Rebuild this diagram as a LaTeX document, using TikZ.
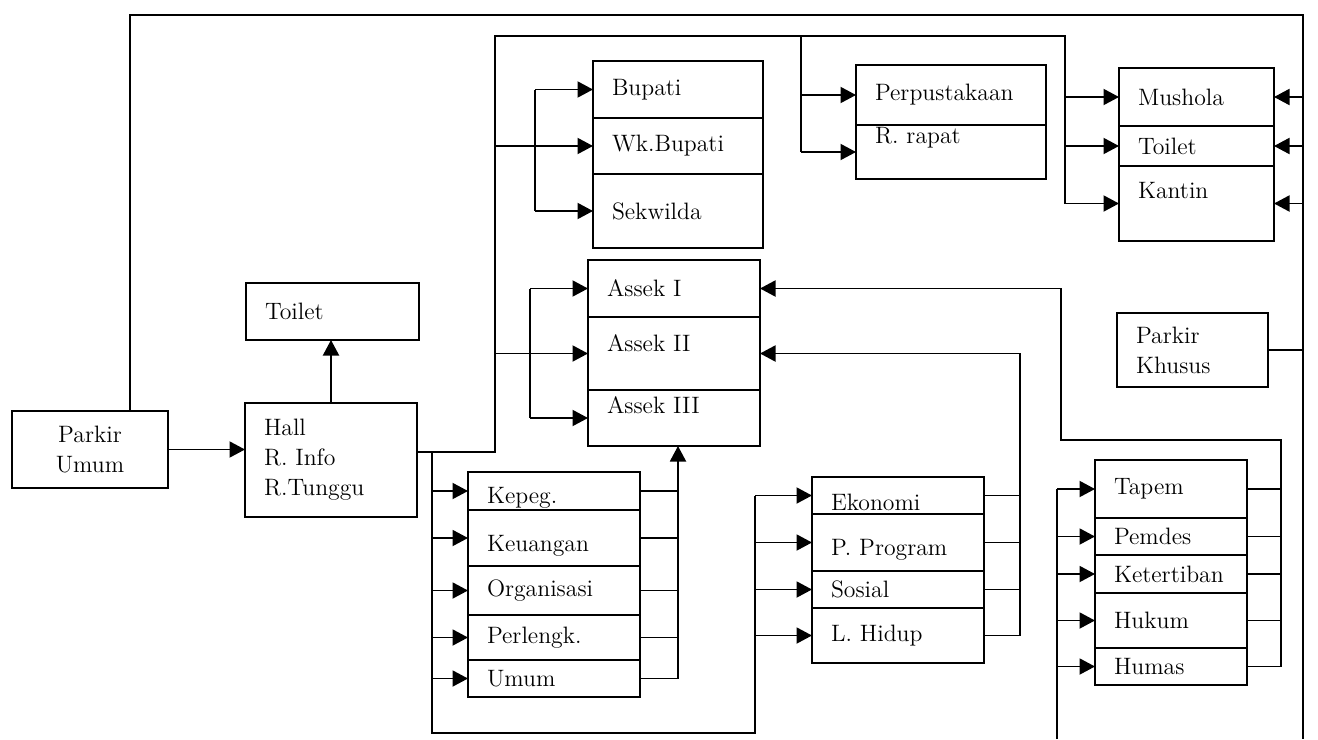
\documentclass[tikz,border=0pt]{standalone}
\usepackage{fontspec}
\usetikzlibrary{arrows.meta}

\tikzset{
  cell/.style 2 args={draw, rectangle, outer sep=0pt, inner xsep=0.38cm, inner ysep=0pt,
    anchor=north west, align=left, text width=#1, minimum height=#2,
    font=\fontsize{13.5}{17}\selectfont},
  lift/.style={text depth=#1},
  sink/.style={text height=#1},
}

\begin{document}
\begin{tikzpicture}[>={Triangle[length=3.1mm, width=3.2mm]}, line width=1.1pt]
\useasboundingbox (0,0) rectangle (26.36,-14.78);

% entrance
\node[cell={2.36cm}{1.54cm}, align=center] (pu) at (0.24,-8.22) {Parkir\\Umum};
\node[cell={2.68cm}{2.28cm}] (hall) at (4.9,-8.06) {Hall\\R. Info\\R.Tunggu};
\node[cell={2.7cm}{1.14cm}] (wc) at (4.92,-5.66) {Toilet};

% pimpinan
\node[cell={2.64cm}{1.14cm}] (bupati) at (11.86,-1.22) {Bupati};
\node[cell={2.64cm}{1.12cm}] (wkbupati) at (bupati.south west) {Wk.Bupati};
\node[cell={2.64cm}{1.48cm}] (sekwilda) at (wkbupati.south west) {Sekwilda};

\node[cell={2.68cm}{1.14cm}] (asek1) at (11.76,-5.2) {Assek I};
\node[cell={2.68cm}{1.46cm}, lift=0.4cm] (asek2) at (asek1.south west) {Assek II};
\node[cell={2.68cm}{1.12cm}, lift=0.52cm] (asek3) at (asek2.south west) {Assek III};

% penunjang
\node[cell={3.04cm}{1.2cm}] (perpus) at (17.12,-1.3) {Perpustakaan};
\node[cell={3.04cm}{1.08cm}, lift=0.65cm] (rapat) at (perpus.south west) {R. rapat};

\node[cell={2.34cm}{1.16cm}] (mushola) at (22.38,-1.36) {Mushola};
\node[cell={2.34cm}{0.8cm}] (toilet) at (mushola.south west) {Toilet};
\node[cell={2.34cm}{1.5cm}, lift=0.52cm] (kantin) at (toilet.south west) {Kantin};

\node[cell={2.26cm}{1.48cm}] (pk) at (22.34,-6.26) {Parkir\\Khusus};

% bagian
\node[cell={2.68cm}{0.76cm}, sink=0.59cm] (kepeg) at (9.36,-9.44) {Kepeg.};
\node[cell={2.68cm}{1.12cm}, sink=0.63cm] (keuangan) at (kepeg.south west) {Keuangan};
\node[cell={2.68cm}{0.98cm}] (organisasi) at (keuangan.south west) {Organisasi};
\node[cell={2.68cm}{0.9cm}] (perlengk) at (organisasi.south west) {Perlengk.};
\node[cell={2.68cm}{0.74cm}] (umum) at (perlengk.south west) {Umum};

\node[cell={2.68cm}{0.74cm}, sink=0.61cm] (ekonomi) at (16.24,-9.54) {Ekonomi};
\node[cell={2.68cm}{1.14cm}, sink=0.61cm] (program) at (ekonomi.south west) {P. Program};
\node[cell={2.68cm}{0.74cm}] (sosial) at (program.south west) {Sosial};
\node[cell={2.68cm}{1.1cm}] (lhidup) at (sosial.south west) {L. Hidup};

\node[cell={2.28cm}{1.16cm}] (tapem) at (21.9,-9.2) {Tapem};
\node[cell={2.28cm}{0.74cm}] (pemdes) at (tapem.south west) {Pemdes};
\node[cell={2.28cm}{0.76cm}] (tertib) at (pemdes.south west) {Ketertiban};
\node[cell={2.28cm}{1.1cm}] (hukum) at (tertib.south west) {Hukum};
\node[cell={2.28cm}{0.74cm}] (humas) at (hukum.south west) {Humas};

% route points
\coordinate (ring-w) at (2.6,-0.3);
\coordinate (ring-e) at (26.06,-0.3);
\coordinate (ring-s) at (26.06,-14.78);
\coordinate (hall-out) at (8.64,-9.04);
\coordinate (main-s) at (9.9,-9.04);
\coordinate (main-n) at (9.9,-0.72);
\coordinate (inner-e) at (21.3,-0.72);
\coordinate (perp-n) at (16.02,-0.72);
\coordinate (bup-v) at (10.7,0);
\coordinate (asek-v) at (10.6,0);
\coordinate (bot-w) at (8.64,-14.66);
\coordinate (bot-e) at (15.1,-14.66);
\coordinate (kep-r) at (13.56,0);
\coordinate (eko-r) at (20.4,0);
\coordinate (tap-l) at (21.14,-14.78);
\coordinate (tap-r) at (25.62,-8.8);
\coordinate (asek-r) at (21.22,-8.8);

% outer ring
\draw (pu.north -| ring-w) -- (ring-w) -- (ring-e) -- (ring-s);
\foreach \n in {mushola,toilet,kantin}
  \draw[->] (ring-e |- \n.east) -- (\n.east);
\draw (pk.east) -- (pk.east -| ring-e);

% entrance
\draw[->] (pu.east) -- (pu.east -| hall.west);
\draw[->] (hall.north) -- (hall.north |- wc.south);

% inner route
\draw (hall.east |- hall-out) -- (main-s) -- (main-n) -- (inner-e) -- (inner-e |- kantin);
\foreach \n in {mushola,toilet,kantin}
  \draw[->] (inner-e |- \n.west) -- (\n.west);
\draw (perp-n) -- (perp-n |- rapat);
\foreach \n in {perpus,rapat}
  \draw[->] (perp-n |- \n.west) -- (\n.west);

\draw[->] (main-n |- wkbupati) -- (wkbupati.west);
\draw (bup-v |- bupati) -- (bup-v |- sekwilda);
\foreach \n in {bupati,sekwilda}
  \draw[->] (bup-v |- \n.west) -- (\n.west);

\draw[->] (main-n |- asek2) -- (asek2.west);
\draw (asek-v |- asek1) -- (asek-v |- asek3);
\foreach \n in {asek1,asek3}
  \draw[->] (asek-v |- \n.west) -- (\n.west);

% bagian
\draw (hall-out) -- (bot-w) -- (bot-e) -- (bot-e |- ekonomi);
\foreach \n in {kepeg,keuangan,organisasi,perlengk,umum} {
  \draw[->] (hall-out |- \n.west) -- (\n.west);
  \draw (\n.east) -- (kep-r |- \n.east);
}
\draw[->] (kep-r |- umum) -- (kep-r |- asek3.south);

\foreach \n in {ekonomi,program,sosial,lhidup} {
  \draw[->] (bot-e |- \n.west) -- (\n.west);
  \draw (\n.east) -- (eko-r |- \n.east);
}
\draw[->] (eko-r |- lhidup) -- (eko-r |- asek2) -- (asek2.east);

\draw (tap-l) -- (tap-l |- tapem);
\foreach \n in {tapem,pemdes,tertib,hukum,humas} {
  \draw[->] (tap-l |- \n.west) -- (\n.west);
  \draw (\n.east) -- (tap-r |- \n.east);
}
\draw[->] (tap-r |- humas) -- (tap-r) -- (asek-r) -- (asek-r |- asek1) -- (asek1.east);

\end{tikzpicture}
\end{document}
